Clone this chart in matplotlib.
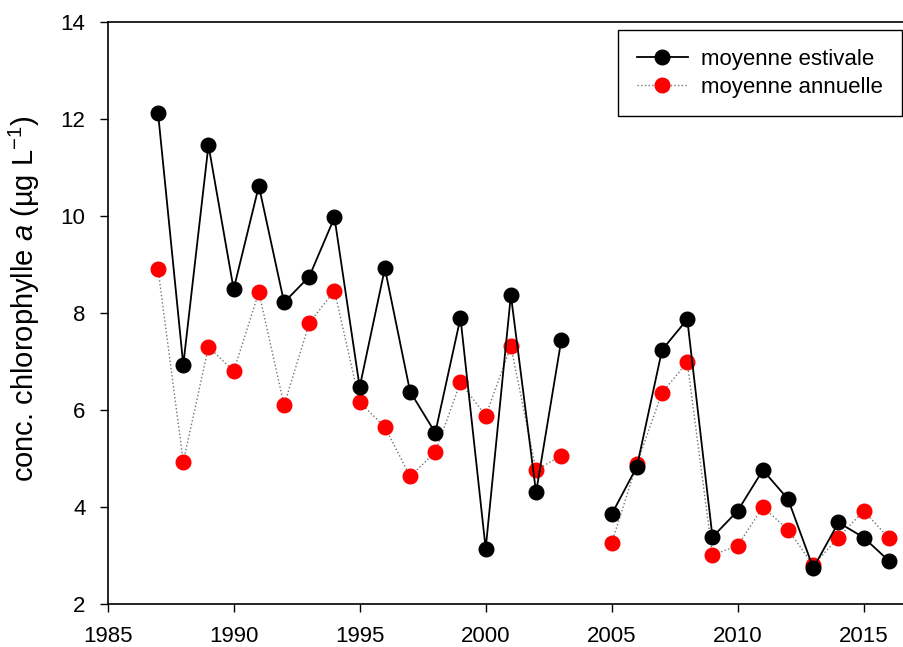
import numpy as np
import matplotlib
matplotlib.use("Agg")
import matplotlib.pyplot as plt

plt.rcParams["font.family"] = ["Liberation Sans", "DejaVu Sans"]
plt.rcParams["mathtext.fontset"] = "custom"
plt.rcParams["mathtext.rm"] = "Liberation Sans"
plt.rcParams["mathtext.it"] = "Liberation Sans:italic"

years = np.arange(1987, 2017)
# moyenne estivale (summer mean), 2004 missing
estivale = [12.12, 6.93, 11.46, 8.49, 10.62, 8.22, 8.75, 9.97, 6.47, 8.92,
            6.38, 5.53, 7.90, 3.14, 8.37, 4.30, 7.44, np.nan, 3.85, 4.83,
            7.24, 7.87, 3.38, 3.92, 4.76, 4.16, 2.74, 3.68, 3.37, 2.89]
# moyenne annuelle (annual mean), 2004 missing
annuelle = [8.90, 4.93, 7.30, 6.80, 8.43, 6.10, 7.79, 8.46, 6.16, 5.65,
            4.63, 5.13, 6.57, 5.88, 7.31, 4.76, 5.06, np.nan, 3.26, 4.89,
            6.36, 6.98, 3.01, 3.20, 4.00, 3.53, 2.80, 3.37, 3.92, 3.36]

fig = plt.figure(figsize=(9.04, 6.47), dpi=100)
ax = fig.add_axes([0.1191, 0.0665, 0.8809, 0.8995])

ax.plot(years, annuelle, linestyle=":", color="0.45", lw=1.0,
        marker="o", markersize=10.5, markerfacecolor="red", markeredgecolor="red",
        label="moyenne annuelle", zorder=2)
ax.plot(years, estivale, linestyle="-", color="black", lw=1.3,
        marker="o", markersize=10.5, markerfacecolor="black", markeredgecolor="black",
        label="moyenne estivale", zorder=3)

ax.set_xlim(1985, 2016.6)
ax.set_ylim(2, 14)
ax.set_xticks(range(1985, 2016, 5))
ax.set_yticks(range(2, 15, 2))
ax.tick_params(direction="out", length=6, width=1, labelsize=16, pad=10)
ax.spines["right"].set_visible(False)
for s in ["left", "bottom", "top"]:
    ax.spines[s].set_linewidth(1.2)

ax.set_ylabel(r"conc. chlorophylle $\mathit{a}$ (µg L$^{-1}$)", fontsize=21)
ax.yaxis.set_label_coords(-0.082, 0.524)

handles, labels = ax.get_legend_handles_labels()
leg = ax.legend(handles[::-1], labels[::-1], loc="upper right",
                bbox_to_anchor=(902 / 904, (647 - 30) / 647),
                bbox_transform=fig.transFigure, borderaxespad=0,
                fontsize=16, frameon=True, fancybox=False, framealpha=1,
                edgecolor="black", handlelength=2.3, labelspacing=0.3,
                borderpad=0.85, handletextpad=0.6)
leg.get_frame().set_linewidth(1.0)

fig.savefig("out.png", dpi=100)
